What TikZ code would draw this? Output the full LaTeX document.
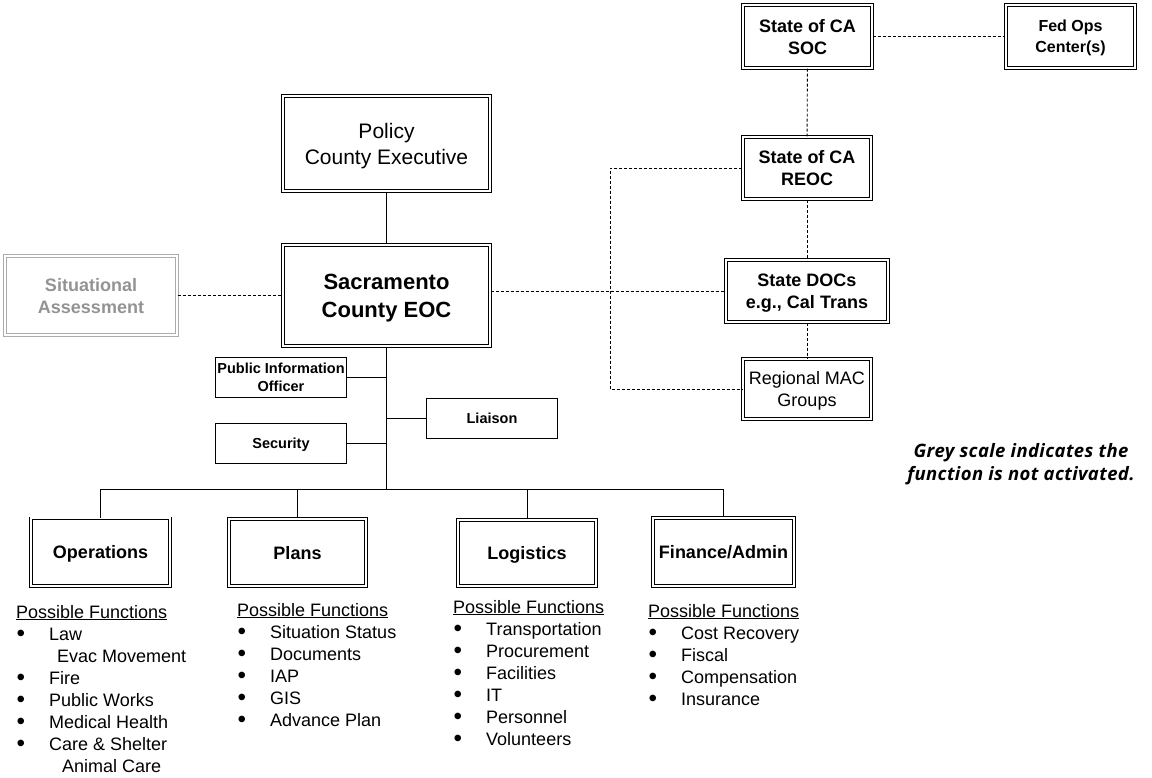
\documentclass[tikz,border=0pt]{standalone}
\usepackage{fontspec}
\setmainfont{Liberation Sans}
\newfontfamily\notefont[LetterSpace=2]{Open Sans}
\tikzset{unit/.style = {draw, double, double distance=1.8pt, line width=0.9pt,
                        inner sep=0pt, align=center, text depth=0pt,
                        font=\bfseries\fontsize{18}{22}\selectfont},
         off/.style = {unit, draw=gray!65, text=gray!85},
         staff/.style = {draw, line width=1.1pt, inner sep=0pt, align=center,
                         text depth=0pt, minimum width=131pt, minimum height=40pt,
                         font=\bfseries\fontsize{14.5}{18}\selectfont},
         link/.style = {line width=0.9pt},
         tie/.style = {line width=0.9pt, dash pattern=on 3pt off 2pt},
         funcs/.style = {anchor=base west, inner sep=0pt,
                         font=\fontsize{18}{22}\selectfont}}
\newcommand{\fn}[1]{\hspace*{0.5pt}\makebox[32.5pt][l]{\raisebox{-1.6pt}{\scalebox{1.35}{\textbullet}}}#1}
\begin{document}
\begin{tikzpicture}[x=1pt, y=-1pt]
  \useasboundingbox (0,0) rectangle (1152,778);

  % state and federal side
  \node [unit, minimum width=129.4pt, minimum height=63.4pt] (soc) at (807.5,36.5) {State of CA\\SOC};
  \node [unit, minimum width=129.4pt, minimum height=63.4pt,
         font=\bfseries\fontsize{16}{21}\selectfont] (fed) at (1070.5,36.5) {Fed Ops\\Center(s)};
  \node [unit, minimum width=128.4pt, minimum height=62.4pt] (reoc) at (807,168) {State of CA\\REOC};
  \node [unit, minimum width=162.4pt, minimum height=62.4pt] (docs) at (807,291) {State DOCs\\e.g., Cal Trans};
  \node [unit, minimum width=128.4pt, minimum height=60.4pt,
         font=\fontsize{18}{22}\selectfont] (mac) at (807,389) {Regional MAC\\Groups};

  % county
  \node [unit, minimum width=207.4pt, minimum height=95.4pt,
         font=\fontsize{21}{26}\selectfont] (policy) at (386.5,143.5) {Policy\\County Executive};
  \node [unit, minimum width=207.4pt, minimum height=101.4pt,
         font=\bfseries\fontsize{22}{28}\selectfont] (eoc) at (386.5,295.5) {Sacramento\\County EOC};
  \node [off, minimum width=172.4pt, minimum height=79.4pt] (sa) at (91,295.5) {Situational\\Assessment};

  \node [staff] (pio) at (281,377.5) {Public Information\\Officer};
  \node [staff] (sec) at (281,443.5) {Security};
  \node [staff] (liaison) at (492,418.5) {Liaison};

  % sections
  \node [unit, minimum width=139.4pt, minimum height=67.4pt] (ops) at (100.5,552) {Operations};
  \node [unit, minimum width=137.4pt, minimum height=67.4pt] (plans) at (297.5,552.5) {Plans};
  \node [unit, minimum width=138.4pt, minimum height=66.4pt] (logi) at (527,553) {Logistics};
  \node [unit, minimum width=141.4pt, minimum height=68.4pt] (fin) at (723.5,552) {Finance/Admin};

  % lines
  \coordinate (bus) at (386.5,489);
  \coordinate (loop) at (610,0);
  \draw [link] (policy) -- (eoc);
  \draw [link] (eoc.south) -- (bus);
  \draw [link] (ops.north |- bus) -- (fin.north |- bus);
  \foreach \sec in {ops,plans,logi,fin}
    \draw [link] (\sec.north) -- (\sec.north |- bus);
  \draw [link] (pio.east) -- (pio.east -| eoc.south);
  \draw [link] (sec.east) -- (sec.east -| eoc.south);
  \draw [link] (liaison.west) -- (liaison.west -| eoc.south);

  \draw [tie] (sa.east) -- (eoc.west);
  \draw [tie] (docs.west -| eoc.east) -- (docs.west);
  \draw [tie] (soc.east) -- (fed.west);
  \draw [tie] (soc) -- (reoc);
  \draw [tie] (reoc) -- (docs);
  \draw [tie] (docs) -- (mac);
  \draw [tie] (reoc.west) -| (loop |- mac.west) -- (mac.west);

  % possible functions
  \node [funcs] (opsf) at (16,618) {\begin{tabular}[t]{@{}l@{}}
      \underline{Possible Functions}\\
      \fn{Law}\\
      \hspace*{41pt}Evac Movement\\
      \fn{Fire}\\
      \fn{Public Works}\\
      \fn{Medical Health}\\
      \fn{Care \& Shelter}\\
      \hspace*{46pt}Animal Care
    \end{tabular}};
  \node [funcs] (plansf) at (237,616) {\begin{tabular}[t]{@{}l@{}}
      \underline{Possible Functions}\\
      \fn{Situation Status}\\
      \fn{Documents}\\
      \fn{IAP}\\
      \fn{GIS}\\
      \fn{Advance Plan}
    \end{tabular}};
  \node [funcs] (logif) at (453,613) {\begin{tabular}[t]{@{}l@{}}
      \underline{Possible Functions}\\
      \fn{Transportation}\\
      \fn{Procurement}\\
      \fn{Facilities}\\
      \fn{IT}\\
      \fn{Personnel}\\
      \fn{Volunteers}
    \end{tabular}};
  \node [funcs] (finf) at (648,617) {\begin{tabular}[t]{@{}l@{}}
      \underline{Possible Functions}\\
      \fn{Cost Recovery}\\
      \fn{Fiscal}\\
      \fn{Compensation}\\
      \fn{Insurance}
    \end{tabular}};

  \node [align=center, inner sep=0pt,
         font=\notefont\bfseries\itshape\fontsize{18.5}{23}\selectfont] (key) at (1021,464)
        {Grey scale indicates the\\function is not activated.};
\end{tikzpicture}
\end{document}
